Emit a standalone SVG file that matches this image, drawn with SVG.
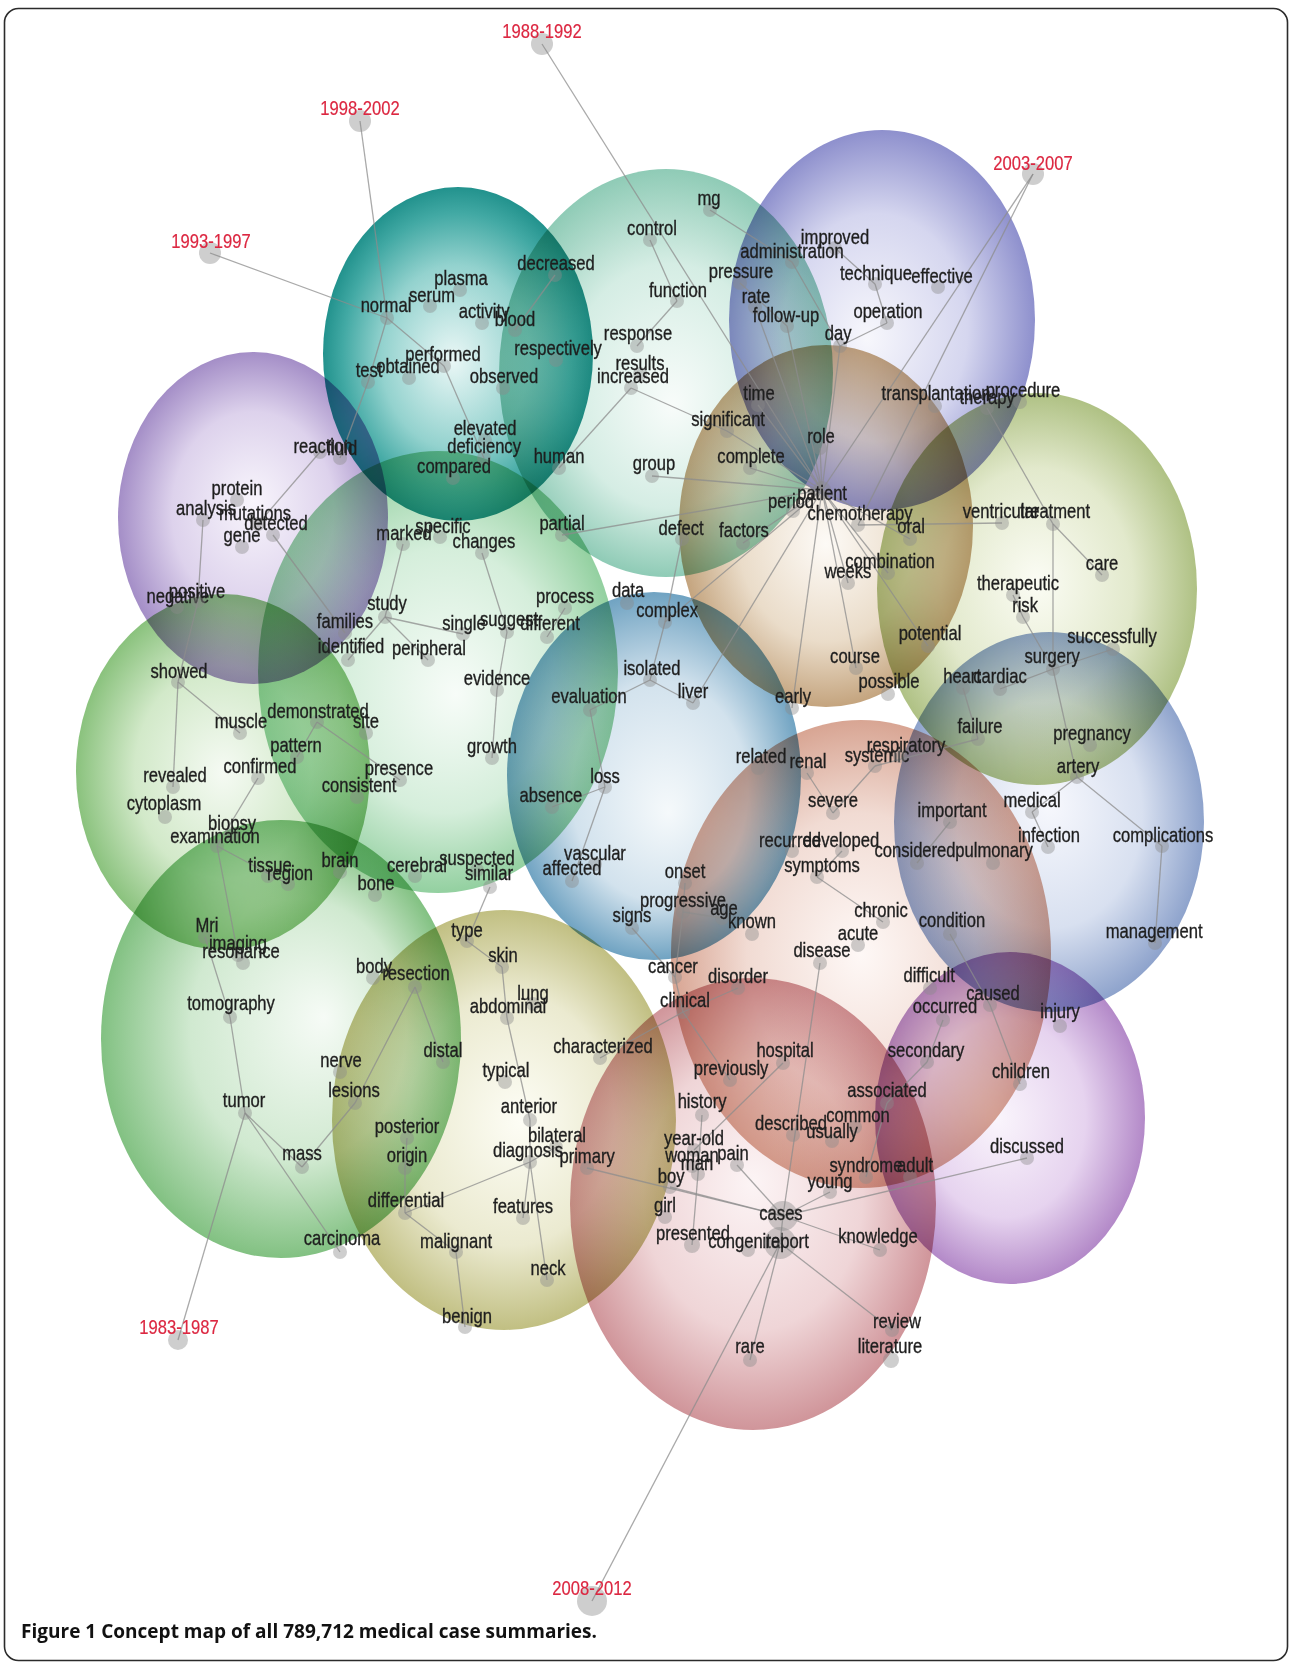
<svg xmlns="http://www.w3.org/2000/svg" width="1290" height="1663" viewBox="0 0 1290 1663">
<style>
.frame{fill:#fff;stroke:#2b2b2b;stroke-width:1.6}
.b{mix-blend-mode:multiply}
.e line{stroke:#8c8c8c;stroke-width:1.3;stroke-opacity:.75}
.n circle{fill:#8a8a8a;fill-opacity:.42}
.n text{font-family:"Liberation Sans",Arial,sans-serif;font-size:20.5px;fill:#1e1e1e;stroke:#1e1e1e;stroke-width:.35;text-anchor:middle;transform-box:fill-box;transform-origin:center;transform:scaleX(.81)}
.yr text{fill:#dc2741;stroke:#dc2741;stroke-width:.2}
.cap{font-family:"Open Sans","DejaVu Sans",sans-serif;font-weight:700;font-size:20px;fill:#111}
</style>
<defs>
<radialGradient id="g1" fx="48%" fy="52%"><stop offset="0" stop-color="#eaf7f6"/><stop offset=".55" stop-color="#93d2ce"/><stop offset=".85" stop-color="#42a9a4"/><stop offset="1" stop-color="#22928d"/></radialGradient>
<radialGradient id="g2" fx="52%" fy="58%"><stop offset="0" stop-color="#f8fcfa"/><stop offset=".6" stop-color="#d5ede4"/><stop offset="1" stop-color="#8fcbb6"/></radialGradient>
<radialGradient id="g3" fx="45%" fy="55%"><stop offset="0" stop-color="#f7f7fc"/><stop offset=".6" stop-color="#d5d6ef"/><stop offset="1" stop-color="#8e90cd"/></radialGradient>
<radialGradient id="g4" fx="50%" fy="55%"><stop offset="0" stop-color="#fdfaf6"/><stop offset=".6" stop-color="#eadcc9"/><stop offset="1" stop-color="#c4a47e"/></radialGradient>
<radialGradient id="g5" fx="50%" fy="48%"><stop offset="0" stop-color="#fbfcf4"/><stop offset=".6" stop-color="#e2e9cc"/><stop offset="1" stop-color="#afc184"/></radialGradient>
<radialGradient id="g6" fx="50%" fy="45%"><stop offset="0" stop-color="#f8f5fc"/><stop offset=".6" stop-color="#ddd2ec"/><stop offset="1" stop-color="#a48ec7"/></radialGradient>
<radialGradient id="g7" fx="55%" fy="55%"><stop offset="0" stop-color="#f7fcf8"/><stop offset=".6" stop-color="#d5eedb"/><stop offset="1" stop-color="#93d0a0"/></radialGradient>
<radialGradient id="g8" fx="50%" fy="50%"><stop offset="0" stop-color="#f5faf3"/><stop offset=".6" stop-color="#d2e9c9"/><stop offset="1" stop-color="#8ac27d"/></radialGradient>
<radialGradient id="g9" fx="62%" fy="45%"><stop offset="0" stop-color="#f6fbf6"/><stop offset=".6" stop-color="#d0e9d0"/><stop offset="1" stop-color="#82c182"/></radialGradient>
<radialGradient id="g10" fx="55%" fy="50%"><stop offset="0" stop-color="#fdfdf5"/><stop offset=".6" stop-color="#ebead0"/><stop offset="1" stop-color="#c1bf82"/></radialGradient>
<radialGradient id="g11" fx="55%" fy="60%"><stop offset="0" stop-color="#f5f9fb"/><stop offset=".6" stop-color="#d2e2ed"/><stop offset="1" stop-color="#70a3c2"/></radialGradient>
<radialGradient id="g12" fx="50%" fy="50%"><stop offset="0" stop-color="#fef8f6"/><stop offset=".6" stop-color="#f1dbd3"/><stop offset="1" stop-color="#d8a593"/></radialGradient>
<radialGradient id="g13" fx="50%" fy="45%"><stop offset="0" stop-color="#fcf4f5"/><stop offset=".6" stop-color="#efd5d7"/><stop offset="1" stop-color="#d0959a"/></radialGradient>
<radialGradient id="g14" fx="50%" fy="45%"><stop offset="0" stop-color="#f7f8fd"/><stop offset=".6" stop-color="#d8e0f0"/><stop offset="1" stop-color="#8ea3cc"/></radialGradient>
<radialGradient id="g15" fx="45%" fy="50%"><stop offset="0" stop-color="#faf5fc"/><stop offset=".6" stop-color="#e6d3ef"/><stop offset="1" stop-color="#b389c8"/></radialGradient>
</defs>
<rect class="frame" x="4.5" y="8.5" width="1283" height="1652" rx="14"/>
<g id="bubbles">
<ellipse class="b" cx="666" cy="373" rx="167" ry="204" fill="url(#g2)"/>
<ellipse class="b" cx="458" cy="354" rx="135" ry="167" fill="url(#g1)"/>
<ellipse class="b" cx="882" cy="320" rx="153" ry="190" fill="url(#g3)"/>
<ellipse class="b" cx="826" cy="526" rx="147" ry="181" fill="url(#g4)"/>
<ellipse class="b" cx="1037" cy="589" rx="160" ry="196" fill="url(#g5)"/>
<ellipse class="b" cx="253" cy="518" rx="135" ry="166" fill="url(#g6)"/>
<ellipse class="b" cx="438" cy="672" rx="180" ry="221" fill="url(#g7)"/>
<ellipse class="b" cx="223" cy="772" rx="147" ry="178" fill="url(#g8)"/>
<ellipse class="b" cx="281" cy="1039" rx="180" ry="219" fill="url(#g9)"/>
<ellipse class="b" cx="504" cy="1120" rx="172" ry="210" fill="url(#g10)"/>
<ellipse class="b" cx="654" cy="776" rx="147" ry="184" fill="url(#g11)"/>
<ellipse class="b" cx="861" cy="954" rx="190" ry="234" fill="url(#g12)"/>
<ellipse class="b" cx="753" cy="1204" rx="183" ry="226" fill="url(#g13)"/>
<ellipse class="b" cx="1049" cy="822" rx="155" ry="190" fill="url(#g14)"/>
<ellipse class="b" cx="1010" cy="1118" rx="135" ry="166" fill="url(#g15)"/>
</g>
<g id="edges" class="e">
<line x1="542" y1="44" x2="822" y2="490"/>
<line x1="360" y1="121" x2="387" y2="318"/>
<line x1="210" y1="253" x2="387" y2="318"/>
<line x1="1033" y1="174" x2="822" y2="490"/>
<line x1="1033" y1="174" x2="858" y2="525"/>
<line x1="178" y1="1340" x2="245" y2="1113"/>
<line x1="592" y1="1601" x2="780" y2="1243"/>
<line x1="387" y1="318" x2="368" y2="382"/>
<line x1="387" y1="318" x2="444" y2="366"/>
<line x1="368" y1="382" x2="340" y2="458"/>
<line x1="444" y1="366" x2="484" y2="458"/>
<line x1="555" y1="275" x2="515" y2="330"/>
<line x1="631" y1="388" x2="559" y2="468"/>
<line x1="631" y1="388" x2="727" y2="431"/>
<line x1="637" y1="346" x2="677" y2="301"/>
<line x1="650" y1="240" x2="677" y2="301"/>
<line x1="710" y1="210" x2="792" y2="262"/>
<line x1="792" y1="262" x2="840" y2="346"/>
<line x1="740" y1="283" x2="787" y2="326"/>
<line x1="835" y1="248" x2="875" y2="284"/>
<line x1="875" y1="284" x2="887" y2="323"/>
<line x1="887" y1="323" x2="840" y2="346"/>
<line x1="822" y1="490" x2="755" y2="307"/>
<line x1="822" y1="490" x2="787" y2="326"/>
<line x1="822" y1="490" x2="840" y2="346"/>
<line x1="822" y1="490" x2="820" y2="448"/>
<line x1="822" y1="490" x2="758" y2="405"/>
<line x1="822" y1="490" x2="727" y2="431"/>
<line x1="822" y1="490" x2="750" y2="468"/>
<line x1="822" y1="490" x2="652" y2="476"/>
<line x1="822" y1="490" x2="562" y2="535"/>
<line x1="822" y1="490" x2="743" y2="543"/>
<line x1="822" y1="490" x2="665" y2="622"/>
<line x1="822" y1="490" x2="693" y2="703"/>
<line x1="822" y1="490" x2="792" y2="708"/>
<line x1="822" y1="490" x2="848" y2="583"/>
<line x1="822" y1="490" x2="856" y2="668"/>
<line x1="822" y1="490" x2="888" y2="573"/>
<line x1="822" y1="490" x2="928" y2="646"/>
<line x1="822" y1="490" x2="910" y2="539"/>
<line x1="858" y1="525" x2="1002" y2="523"/>
<line x1="682" y1="539" x2="665" y2="622"/>
<line x1="650" y1="680" x2="693" y2="703"/>
<line x1="650" y1="680" x2="665" y2="622"/>
<line x1="590" y1="710" x2="650" y2="680"/>
<line x1="590" y1="710" x2="605" y2="787"/>
<line x1="605" y1="787" x2="552" y2="807"/>
<line x1="605" y1="787" x2="572" y2="881"/>
<line x1="403" y1="544" x2="385" y2="617"/>
<line x1="385" y1="617" x2="463" y2="634"/>
<line x1="385" y1="617" x2="348" y2="660"/>
<line x1="385" y1="617" x2="428" y2="660"/>
<line x1="482" y1="553" x2="507" y2="632"/>
<line x1="507" y1="632" x2="497" y2="690"/>
<line x1="497" y1="690" x2="492" y2="758"/>
<line x1="547" y1="637" x2="565" y2="608"/>
<line x1="273" y1="535" x2="345" y2="633"/>
<line x1="320" y1="452" x2="258" y2="524"/>
<line x1="203" y1="520" x2="198" y2="601"/>
<line x1="198" y1="601" x2="178" y2="682"/>
<line x1="178" y1="682" x2="173" y2="787"/>
<line x1="178" y1="682" x2="240" y2="733"/>
<line x1="317" y1="722" x2="400" y2="780"/>
<line x1="317" y1="722" x2="297" y2="757"/>
<line x1="258" y1="778" x2="217" y2="846"/>
<line x1="217" y1="846" x2="238" y2="955"/>
<line x1="217" y1="846" x2="288" y2="884"/>
<line x1="205" y1="937" x2="230" y2="1017"/>
<line x1="230" y1="1017" x2="245" y2="1113"/>
<line x1="245" y1="1113" x2="302" y2="1167"/>
<line x1="245" y1="1113" x2="340" y2="1252"/>
<line x1="302" y1="1167" x2="355" y2="1103"/>
<line x1="355" y1="1103" x2="415" y2="987"/>
<line x1="415" y1="987" x2="443" y2="1062"/>
<line x1="407" y1="1138" x2="405" y2="1168"/>
<line x1="405" y1="1168" x2="405" y2="1213"/>
<line x1="405" y1="1213" x2="530" y2="1162"/>
<line x1="405" y1="1213" x2="456" y2="1252"/>
<line x1="490" y1="887" x2="467" y2="941"/>
<line x1="467" y1="941" x2="502" y2="967"/>
<line x1="502" y1="967" x2="507" y2="1018"/>
<line x1="507" y1="1018" x2="530" y2="1120"/>
<line x1="530" y1="1120" x2="530" y2="1162"/>
<line x1="530" y1="1162" x2="523" y2="1218"/>
<line x1="530" y1="1162" x2="547" y2="1280"/>
<line x1="530" y1="1162" x2="556" y2="1147"/>
<line x1="587" y1="1168" x2="783" y2="1216"/>
<line x1="456" y1="1252" x2="465" y2="1327"/>
<line x1="600" y1="1058" x2="683" y2="1012"/>
<line x1="683" y1="1012" x2="675" y2="977"/>
<line x1="675" y1="977" x2="632" y2="928"/>
<line x1="675" y1="977" x2="683" y2="912"/>
<line x1="685" y1="883" x2="683" y2="912"/>
<line x1="683" y1="912" x2="722" y2="918"/>
<line x1="683" y1="1012" x2="738" y2="988"/>
<line x1="683" y1="1012" x2="730" y2="1080"/>
<line x1="783" y1="1063" x2="694" y2="1150"/>
<line x1="702" y1="1115" x2="698" y2="1174"/>
<line x1="698" y1="1174" x2="692" y2="1245"/>
<line x1="737" y1="1165" x2="783" y2="1216"/>
<line x1="670" y1="1187" x2="783" y2="1216"/>
<line x1="820" y1="963" x2="783" y2="1216"/>
<line x1="783" y1="1216" x2="780" y2="1243"/>
<line x1="780" y1="1243" x2="750" y2="1360"/>
<line x1="780" y1="1243" x2="892" y2="1330"/>
<line x1="783" y1="1216" x2="880" y2="1250"/>
<line x1="783" y1="1216" x2="830" y2="1192"/>
<line x1="783" y1="1216" x2="1027" y2="1158"/>
<line x1="927" y1="1062" x2="887" y2="1103"/>
<line x1="943" y1="1020" x2="927" y2="1062"/>
<line x1="887" y1="1103" x2="866" y2="1177"/>
<line x1="950" y1="934" x2="990" y2="1005"/>
<line x1="990" y1="1005" x2="1020" y2="1084"/>
<line x1="817" y1="877" x2="883" y2="922"/>
<line x1="842" y1="851" x2="817" y2="877"/>
<line x1="833" y1="813" x2="807" y2="773"/>
<line x1="833" y1="813" x2="875" y2="766"/>
<line x1="978" y1="739" x2="875" y2="766"/>
<line x1="978" y1="739" x2="963" y2="688"/>
<line x1="1000" y1="689" x2="1053" y2="669"/>
<line x1="1053" y1="669" x2="1113" y2="649"/>
<line x1="1053" y1="669" x2="1023" y2="617"/>
<line x1="1023" y1="617" x2="1013" y2="595"/>
<line x1="1053" y1="669" x2="1053" y2="524"/>
<line x1="1053" y1="524" x2="1102" y2="575"/>
<line x1="1053" y1="524" x2="987" y2="408"/>
<line x1="1053" y1="669" x2="1077" y2="777"/>
<line x1="1077" y1="777" x2="1032" y2="812"/>
<line x1="1077" y1="777" x2="1162" y2="846"/>
<line x1="1162" y1="846" x2="1155" y2="943"/>
<line x1="1032" y1="812" x2="1048" y2="847"/>
<line x1="950" y1="822" x2="917" y2="863"/>
</g>
<g id="nodes">
<g id="n-1988-1992" class="n yr"><circle cx="542" cy="44" r="11"/><text x="542" y="38">1988-1992</text></g>
<g id="n-1998-2002" class="n yr"><circle cx="360" cy="121" r="11"/><text x="360" y="115">1998-2002</text></g>
<g id="n-1993-1997" class="n yr"><circle cx="210" cy="253" r="11"/><text x="211" y="248">1993-1997</text></g>
<g id="n-2003-2007" class="n yr"><circle cx="1033" cy="174" r="11"/><text x="1033" y="170">2003-2007</text></g>
<g id="n-1983-1987" class="n yr"><circle cx="178" cy="1340" r="10"/><text x="179" y="1334">1983-1987</text></g>
<g id="n-2008-2012" class="n yr"><circle cx="592" cy="1601" r="15"/><text x="592" y="1595">2008-2012</text></g>

<g id="n-normal" class="n"><circle cx="387" cy="318" r="7"/><text x="386" y="312">normal</text></g>
<g id="n-serum" class="n"><circle cx="430" cy="306" r="7"/><text x="432" y="302">serum</text></g>
<g id="n-plasma" class="n"><circle cx="460" cy="290" r="7"/><text x="461" y="285">plasma</text></g>
<g id="n-activity" class="n"><circle cx="482" cy="323" r="7"/><text x="484" y="318">activity</text></g>
<g id="n-blood" class="n"><circle cx="515" cy="330" r="7"/><text x="515" y="326">blood</text></g>
<g id="n-test" class="n"><circle cx="368" cy="382" r="7"/><text x="369" y="377">test</text></g>
<g id="n-obtained" class="n"><circle cx="409" cy="378" r="7"/><text x="408" y="373">obtained</text></g>
<g id="n-performed" class="n"><circle cx="444" cy="366" r="7"/><text x="443" y="361">performed</text></g>
<g id="n-observed" class="n"><circle cx="503" cy="388" r="7"/><text x="504" y="383">observed</text></g>
<g id="n-respectively" class="n"><circle cx="556" cy="360" r="7"/><text x="558" y="355">respectively</text></g>
<g id="n-decreased" class="n"><circle cx="555" cy="275" r="7"/><text x="556" y="270">decreased</text></g>
<g id="n-elevated" class="n"><circle cx="485" cy="440" r="7"/><text x="485" y="435">elevated</text></g>
<g id="n-deficiency" class="n"><circle cx="484" cy="458" r="7"/><text x="484" y="453">deficiency</text></g>
<g id="n-compared" class="n"><circle cx="453" cy="478" r="7"/><text x="454" y="473">compared</text></g>
<g id="n-human" class="n"><circle cx="559" cy="468" r="7"/><text x="559" y="463">human</text></g>

<g id="n-mg" class="n"><circle cx="710" cy="210" r="7"/><text x="709" y="205">mg</text></g>
<g id="n-control" class="n"><circle cx="650" cy="240" r="7"/><text x="652" y="235">control</text></g>
<g id="n-function" class="n"><circle cx="677" cy="301" r="7"/><text x="678" y="297">function</text></g>
<g id="n-response" class="n"><circle cx="637" cy="346" r="7"/><text x="638" y="340">response</text></g>
<g id="n-results" class="n"><circle cx="640" cy="374" r="7"/><text x="640" y="370">results</text></g>
<g id="n-increased" class="n"><circle cx="631" cy="388" r="7"/><text x="633" y="383">increased</text></g>
<g id="n-significant" class="n"><circle cx="727" cy="431" r="7"/><text x="728" y="426">significant</text></g>
<g id="n-group" class="n"><circle cx="652" cy="476" r="7"/><text x="654" y="470">group</text></g>
<g id="n-partial" class="n"><circle cx="562" cy="535" r="7"/><text x="562" y="530">partial</text></g>
<g id="n-defect" class="n"><circle cx="682" cy="539" r="7"/><text x="681" y="535">defect</text></g>
<g id="n-factors" class="n"><circle cx="743" cy="543" r="7"/><text x="744" y="537">factors</text></g>
<g id="n-time" class="n"><circle cx="758" cy="405" r="7"/><text x="759" y="400">time</text></g>
<g id="n-complete" class="n"><circle cx="750" cy="468" r="7"/><text x="751" y="463">complete</text></g>

<g id="n-improved" class="n"><circle cx="835" cy="248" r="7"/><text x="835" y="244">improved</text></g>
<g id="n-administration" class="n"><circle cx="792" cy="262" r="7"/><text x="792" y="258">administration</text></g>
<g id="n-technique" class="n"><circle cx="875" cy="284" r="7"/><text x="876" y="280">technique</text></g>
<g id="n-effective" class="n"><circle cx="938" cy="287" r="7"/><text x="942" y="283">effective</text></g>
<g id="n-pressure" class="n"><circle cx="740" cy="283" r="7"/><text x="741" y="278">pressure</text></g>
<g id="n-rate" class="n"><circle cx="755" cy="307" r="7"/><text x="756" y="303">rate</text></g>
<g id="n-follow-up" class="n"><circle cx="787" cy="326" r="7"/><text x="786" y="322">follow-up</text></g>
<g id="n-day" class="n"><circle cx="840" cy="346" r="7"/><text x="838" y="340">day</text></g>
<g id="n-operation" class="n"><circle cx="887" cy="323" r="7"/><text x="888" y="318">operation</text></g>
<g id="n-transplantation" class="n"><circle cx="935" cy="406" r="7"/><text x="936" y="400">transplantation</text></g>
<g id="n-therapy" class="n"><circle cx="987" cy="408" r="7"/><text x="987" y="404">therapy</text></g>
<g id="n-procedure" class="n"><circle cx="1020" cy="402" r="7"/><text x="1023" y="397">procedure</text></g>
<g id="n-role" class="n"><circle cx="820" cy="448" r="7"/><text x="821" y="443">role</text></g>

<g id="n-patient" class="n"><circle cx="822" cy="490" r="9"/><text x="822" y="500">patient</text></g>
<g id="n-period" class="n"><circle cx="793" cy="511" r="7"/><text x="791" y="508">period</text></g>
<g id="n-chemotherapy" class="n"><circle cx="858" cy="525" r="7"/><text x="860" y="520">chemotherapy</text></g>
<g id="n-oral" class="n"><circle cx="910" cy="539" r="7"/><text x="911" y="533">oral</text></g>
<g id="n-combination" class="n"><circle cx="888" cy="573" r="7"/><text x="890" y="568">combination</text></g>
<g id="n-weeks" class="n"><circle cx="848" cy="583" r="7"/><text x="848" y="578">weeks</text></g>
<g id="n-potential" class="n"><circle cx="928" cy="646" r="7"/><text x="930" y="640">potential</text></g>
<g id="n-course" class="n"><circle cx="856" cy="668" r="7"/><text x="855" y="663">course</text></g>
<g id="n-possible" class="n"><circle cx="888" cy="694" r="7"/><text x="889" y="688">possible</text></g>
<g id="n-early" class="n"><circle cx="792" cy="708" r="7"/><text x="793" y="703">early</text></g>

<g id="n-ventricular" class="n"><circle cx="1002" cy="523" r="7"/><text x="1001" y="518">ventricular</text></g>
<g id="n-treatment" class="n"><circle cx="1053" cy="524" r="7"/><text x="1055" y="518">treatment</text></g>
<g id="n-care" class="n"><circle cx="1102" cy="575" r="7"/><text x="1102" y="570">care</text></g>
<g id="n-therapeutic" class="n"><circle cx="1013" cy="595" r="7"/><text x="1018" y="590">therapeutic</text></g>
<g id="n-risk" class="n"><circle cx="1023" cy="617" r="7"/><text x="1025" y="612">risk</text></g>
<g id="n-successfully" class="n"><circle cx="1113" cy="649" r="7"/><text x="1112" y="643">successfully</text></g>
<g id="n-surgery" class="n"><circle cx="1053" cy="669" r="7"/><text x="1052" y="663">surgery</text></g>
<g id="n-heart" class="n"><circle cx="963" cy="688" r="7"/><text x="962" y="683">heart</text></g>
<g id="n-cardiac" class="n"><circle cx="1000" cy="689" r="7"/><text x="1000" y="683">cardiac</text></g>
<g id="n-failure" class="n"><circle cx="978" cy="739" r="7"/><text x="980" y="733">failure</text></g>
<g id="n-pregnancy" class="n"><circle cx="1090" cy="745" r="7"/><text x="1092" y="740">pregnancy</text></g>

<g id="n-artery" class="n"><circle cx="1077" cy="777" r="7"/><text x="1078" y="773">artery</text></g>
<g id="n-medical" class="n"><circle cx="1032" cy="812" r="7"/><text x="1032" y="807">medical</text></g>
<g id="n-important" class="n"><circle cx="950" cy="822" r="7"/><text x="952" y="817">important</text></g>
<g id="n-infection" class="n"><circle cx="1048" cy="847" r="7"/><text x="1049" y="842">infection</text></g>
<g id="n-complications" class="n"><circle cx="1162" cy="846" r="7"/><text x="1163" y="842">complications</text></g>
<g id="n-considered" class="n"><circle cx="917" cy="863" r="7"/><text x="915" y="857">considered</text></g>
<g id="n-pulmonary" class="n"><circle cx="993" cy="863" r="7"/><text x="994" y="857">pulmonary</text></g>
<g id="n-condition" class="n"><circle cx="950" cy="934" r="7"/><text x="952" y="927">condition</text></g>
<g id="n-management" class="n"><circle cx="1155" cy="943" r="7"/><text x="1154" y="938">management</text></g>

<g id="n-difficult" class="n"><circle cx="930" cy="988" r="7"/><text x="929" y="982">difficult</text></g>
<g id="n-caused" class="n"><circle cx="990" cy="1005" r="7"/><text x="993" y="1000">caused</text></g>
<g id="n-occurred" class="n"><circle cx="943" cy="1020" r="7"/><text x="945" y="1013">occurred</text></g>
<g id="n-injury" class="n"><circle cx="1060" cy="1026" r="7"/><text x="1060" y="1018">injury</text></g>
<g id="n-secondary" class="n"><circle cx="927" cy="1062" r="7"/><text x="926" y="1057">secondary</text></g>
<g id="n-children" class="n"><circle cx="1020" cy="1084" r="7"/><text x="1021" y="1078">children</text></g>
<g id="n-discussed" class="n"><circle cx="1027" cy="1158" r="7"/><text x="1027" y="1153">discussed</text></g>
<g id="n-adult" class="n"><circle cx="910" cy="1177" r="7"/><text x="915" y="1172">adult</text></g>

<g id="n-related" class="n"><circle cx="758" cy="768" r="7"/><text x="761" y="763">related</text></g>
<g id="n-renal" class="n"><circle cx="807" cy="773" r="7"/><text x="808" y="768">renal</text></g>
<g id="n-systemic" class="n"><circle cx="875" cy="766" r="7"/><text x="877" y="762">systemic</text></g>
<g id="n-respiratory" class="n"><circle cx="900" cy="756" r="7"/><text x="906" y="752">respiratory</text></g>
<g id="n-severe" class="n"><circle cx="833" cy="813" r="7"/><text x="833" y="807">severe</text></g>
<g id="n-recurred" class="n"><circle cx="792" cy="851" r="7"/><text x="790" y="847">recurred</text></g>
<g id="n-developed" class="n"><circle cx="842" cy="851" r="7"/><text x="841" y="847">developed</text></g>
<g id="n-symptoms" class="n"><circle cx="817" cy="877" r="7"/><text x="822" y="872">symptoms</text></g>
<g id="n-chronic" class="n"><circle cx="883" cy="922" r="7"/><text x="881" y="917">chronic</text></g>
<g id="n-acute" class="n"><circle cx="858" cy="945" r="7"/><text x="858" y="940">acute</text></g>
<g id="n-disease" class="n"><circle cx="820" cy="963" r="7"/><text x="822" y="957">disease</text></g>
<g id="n-known" class="n"><circle cx="752" cy="934" r="7"/><text x="752" y="928">known</text></g>
<g id="n-disorder" class="n"><circle cx="738" cy="988" r="7"/><text x="738" y="983">disorder</text></g>
<g id="n-hospital" class="n"><circle cx="783" cy="1063" r="7"/><text x="785" y="1057">hospital</text></g>
<g id="n-previously" class="n"><circle cx="730" cy="1080" r="7"/><text x="731" y="1075">previously</text></g>
<g id="n-associated" class="n"><circle cx="887" cy="1103" r="7"/><text x="887" y="1097">associated</text></g>
<g id="n-common" class="n"><circle cx="855" cy="1127" r="7"/><text x="858" y="1122">common</text></g>
<g id="n-usually" class="n"><circle cx="832" cy="1141" r="7"/><text x="832" y="1138">usually</text></g>
<g id="n-described" class="n"><circle cx="793" cy="1135" r="7"/><text x="791" y="1130">described</text></g>
<g id="n-syndrome" class="n"><circle cx="866" cy="1177" r="7"/><text x="866" y="1172">syndrome</text></g>
<g id="n-young" class="n"><circle cx="830" cy="1192" r="7"/><text x="830" y="1188">young</text></g>

<g id="n-clinical" class="n"><circle cx="683" cy="1012" r="7"/><text x="685" y="1007">clinical</text></g>
<g id="n-history" class="n"><circle cx="702" cy="1115" r="7"/><text x="702" y="1108">history</text></g>
<g id="n-year-old" class="n"><circle cx="694" cy="1150" r="7"/><text x="694" y="1145">year-old</text></g>
<g id="n-woman" class="n"><circle cx="692" cy="1166" r="7"/><text x="692" y="1162">woman</text></g>
<g id="n-man" class="n"><circle cx="698" cy="1174" r="7"/><text x="697" y="1170">man</text></g>
<g id="n-pain" class="n"><circle cx="737" cy="1165" r="7"/><text x="733" y="1160">pain</text></g>
<g id="n-boy" class="n"><circle cx="670" cy="1187" r="7"/><text x="671" y="1183">boy</text></g>
<g id="n-girl" class="n"><circle cx="665" cy="1217" r="7"/><text x="665" y="1212">girl</text></g>
<g id="n-cases" class="n"><circle cx="783" cy="1216" r="15"/><text x="781" y="1220">cases</text></g>
<g id="n-presented" class="n"><circle cx="692" cy="1245" r="8"/><text x="693" y="1240">presented</text></g>
<g id="n-congenital" class="n"><circle cx="748" cy="1250" r="7"/><text x="746" y="1248">congenital</text></g>
<g id="n-report" class="n"><circle cx="780" cy="1243" r="16"/><text x="787" y="1248">report</text></g>
<g id="n-knowledge" class="n"><circle cx="880" cy="1250" r="7"/><text x="878" y="1243">knowledge</text></g>
<g id="n-rare" class="n"><circle cx="750" cy="1360" r="7"/><text x="750" y="1353">rare</text></g>
<g id="n-review" class="n"><circle cx="892" cy="1330" r="7"/><text x="897" y="1328">review</text></g>
<g id="n-literature" class="n"><circle cx="891" cy="1360" r="8"/><text x="890" y="1353">literature</text></g>

<g id="n-data" class="n"><circle cx="627" cy="603" r="7"/><text x="628" y="597">data</text></g>
<g id="n-complex" class="n"><circle cx="665" cy="622" r="7"/><text x="667" y="617">complex</text></g>
<g id="n-isolated" class="n"><circle cx="650" cy="680" r="7"/><text x="652" y="675">isolated</text></g>
<g id="n-liver" class="n"><circle cx="693" cy="703" r="7"/><text x="693" y="698">liver</text></g>
<g id="n-evaluation" class="n"><circle cx="590" cy="710" r="7"/><text x="589" y="703">evaluation</text></g>
<g id="n-loss" class="n"><circle cx="605" cy="787" r="7"/><text x="605" y="783">loss</text></g>
<g id="n-absence" class="n"><circle cx="552" cy="807" r="7"/><text x="551" y="802">absence</text></g>
<g id="n-vascular" class="n"><circle cx="595" cy="864" r="7"/><text x="595" y="860">vascular</text></g>
<g id="n-affected" class="n"><circle cx="572" cy="881" r="7"/><text x="572" y="875">affected</text></g>
<g id="n-onset" class="n"><circle cx="685" cy="883" r="7"/><text x="685" y="878">onset</text></g>
<g id="n-progressive" class="n"><circle cx="683" cy="912" r="7"/><text x="683" y="907">progressive</text></g>
<g id="n-age" class="n"><circle cx="722" cy="918" r="7"/><text x="724" y="915">age</text></g>
<g id="n-signs" class="n"><circle cx="632" cy="928" r="7"/><text x="632" y="922">signs</text></g>
<g id="n-cancer" class="n"><circle cx="675" cy="977" r="7"/><text x="673" y="973">cancer</text></g>

<g id="n-marked" class="n"><circle cx="403" cy="544" r="7"/><text x="404" y="540">marked</text></g>
<g id="n-specific" class="n"><circle cx="440" cy="537" r="7"/><text x="443" y="533">specific</text></g>
<g id="n-changes" class="n"><circle cx="482" cy="553" r="7"/><text x="484" y="548">changes</text></g>
<g id="n-study" class="n"><circle cx="385" cy="617" r="7"/><text x="387" y="610">study</text></g>
<g id="n-single" class="n"><circle cx="463" cy="634" r="7"/><text x="464" y="630">single</text></g>
<g id="n-suggest" class="n"><circle cx="507" cy="632" r="7"/><text x="509" y="626">suggest</text></g>
<g id="n-different" class="n"><circle cx="547" cy="637" r="7"/><text x="550" y="630">different</text></g>
<g id="n-process" class="n"><circle cx="565" cy="608" r="7"/><text x="565" y="603">process</text></g>
<g id="n-families" class="n"><circle cx="345" cy="633" r="7"/><text x="345" y="628">families</text></g>
<g id="n-identified" class="n"><circle cx="348" cy="660" r="7"/><text x="351" y="653">identified</text></g>
<g id="n-peripheral" class="n"><circle cx="428" cy="660" r="7"/><text x="429" y="655">peripheral</text></g>
<g id="n-evidence" class="n"><circle cx="497" cy="690" r="7"/><text x="497" y="685">evidence</text></g>
<g id="n-growth" class="n"><circle cx="492" cy="758" r="7"/><text x="492" y="753">growth</text></g>
<g id="n-demonstrated" class="n"><circle cx="317" cy="722" r="7"/><text x="318" y="718">demonstrated</text></g>
<g id="n-site" class="n"><circle cx="366" cy="733" r="7"/><text x="366" y="728">site</text></g>
<g id="n-presence" class="n"><circle cx="400" cy="780" r="7"/><text x="399" y="775">presence</text></g>
<g id="n-consistent" class="n"><circle cx="357" cy="797" r="7"/><text x="359" y="792">consistent</text></g>
<g id="n-cerebral" class="n"><circle cx="415" cy="876" r="7"/><text x="417" y="872">cerebral</text></g>
<g id="n-suspected" class="n"><circle cx="477" cy="870" r="7"/><text x="477" y="865">suspected</text></g>
<g id="n-similar" class="n"><circle cx="490" cy="887" r="7"/><text x="489" y="880">similar</text></g>

<g id="n-reaction" class="n"><circle cx="320" cy="452" r="7"/><text x="323" y="453">reaction</text></g>
<g id="n-fluid" class="n"><circle cx="340" cy="458" r="7"/><text x="342" y="455">fluid</text></g>
<g id="n-protein" class="n"><circle cx="237" cy="500" r="7"/><text x="237" y="495">protein</text></g>
<g id="n-analysis" class="n"><circle cx="203" cy="520" r="7"/><text x="206" y="515">analysis</text></g>
<g id="n-mutations" class="n"><circle cx="258" cy="524" r="7"/><text x="255" y="520">mutations</text></g>
<g id="n-detected" class="n"><circle cx="273" cy="535" r="7"/><text x="276" y="530">detected</text></g>
<g id="n-gene" class="n"><circle cx="242" cy="547" r="7"/><text x="242" y="542">gene</text></g>
<g id="n-negative" class="n"><circle cx="177" cy="607" r="7"/><text x="178" y="603">negative</text></g>
<g id="n-positive" class="n"><circle cx="198" cy="601" r="7"/><text x="197" y="598">positive</text></g>

<g id="n-showed" class="n"><circle cx="178" cy="682" r="7"/><text x="179" y="678">showed</text></g>
<g id="n-muscle" class="n"><circle cx="240" cy="733" r="7"/><text x="241" y="728">muscle</text></g>
<g id="n-pattern" class="n"><circle cx="297" cy="757" r="7"/><text x="296" y="752">pattern</text></g>
<g id="n-confirmed" class="n"><circle cx="258" cy="778" r="7"/><text x="260" y="773">confirmed</text></g>
<g id="n-revealed" class="n"><circle cx="173" cy="787" r="7"/><text x="175" y="782">revealed</text></g>
<g id="n-cytoplasm" class="n"><circle cx="165" cy="817" r="7"/><text x="164" y="810">cytoplasm</text></g>
<g id="n-biopsy" class="n"><circle cx="232" cy="834" r="7"/><text x="232" y="830">biopsy</text></g>
<g id="n-examination" class="n"><circle cx="217" cy="846" r="7"/><text x="215" y="843">examination</text></g>
<g id="n-tissue" class="n"><circle cx="268" cy="876" r="7"/><text x="270" y="872">tissue</text></g>
<g id="n-region" class="n"><circle cx="288" cy="884" r="7"/><text x="290" y="880">region</text></g>
<g id="n-brain" class="n"><circle cx="340" cy="872" r="7"/><text x="340" y="867">brain</text></g>
<g id="n-bone" class="n"><circle cx="375" cy="895" r="7"/><text x="376" y="890">bone</text></g>

<g id="n-Mri" class="n"><circle cx="205" cy="937" r="7"/><text x="207" y="932">Mri</text></g>
<g id="n-imaging" class="n"><circle cx="238" cy="955" r="7"/><text x="238" y="950">imaging</text></g>
<g id="n-resonance" class="n"><circle cx="243" cy="963" r="7"/><text x="241" y="958">resonance</text></g>
<g id="n-tomography" class="n"><circle cx="230" cy="1017" r="7"/><text x="231" y="1010">tomography</text></g>
<g id="n-nerve" class="n"><circle cx="340" cy="1072" r="7"/><text x="341" y="1067">nerve</text></g>
<g id="n-lesions" class="n"><circle cx="355" cy="1103" r="7"/><text x="354" y="1097">lesions</text></g>
<g id="n-tumor" class="n"><circle cx="245" cy="1113" r="7"/><text x="244" y="1107">tumor</text></g>
<g id="n-mass" class="n"><circle cx="302" cy="1167" r="7"/><text x="302" y="1160">mass</text></g>
<g id="n-carcinoma" class="n"><circle cx="340" cy="1252" r="7"/><text x="342" y="1245">carcinoma</text></g>
<g id="n-body" class="n"><circle cx="373" cy="978" r="7"/><text x="374" y="973">body</text></g>
<g id="n-resection" class="n"><circle cx="415" cy="987" r="7"/><text x="416" y="980">resection</text></g>
<g id="n-distal" class="n"><circle cx="443" cy="1062" r="7"/><text x="443" y="1057">distal</text></g>
<g id="n-posterior" class="n"><circle cx="407" cy="1138" r="7"/><text x="407" y="1133">posterior</text></g>
<g id="n-origin" class="n"><circle cx="405" cy="1168" r="7"/><text x="407" y="1162">origin</text></g>
<g id="n-differential" class="n"><circle cx="405" cy="1213" r="7"/><text x="406" y="1207">differential</text></g>

<g id="n-type" class="n"><circle cx="467" cy="941" r="7"/><text x="467" y="937">type</text></g>
<g id="n-skin" class="n"><circle cx="502" cy="967" r="7"/><text x="503" y="962">skin</text></g>
<g id="n-lung" class="n"><circle cx="533" cy="1004" r="7"/><text x="533" y="1000">lung</text></g>
<g id="n-abdominal" class="n"><circle cx="507" cy="1018" r="7"/><text x="508" y="1013">abdominal</text></g>
<g id="n-characterized" class="n"><circle cx="600" cy="1058" r="7"/><text x="603" y="1053">characterized</text></g>
<g id="n-typical" class="n"><circle cx="505" cy="1082" r="7"/><text x="506" y="1077">typical</text></g>
<g id="n-anterior" class="n"><circle cx="530" cy="1120" r="7"/><text x="529" y="1113">anterior</text></g>
<g id="n-bilateral" class="n"><circle cx="556" cy="1147" r="7"/><text x="557" y="1142">bilateral</text></g>
<g id="n-diagnosis" class="n"><circle cx="530" cy="1162" r="7"/><text x="528" y="1157">diagnosis</text></g>
<g id="n-primary" class="n"><circle cx="587" cy="1168" r="7"/><text x="587" y="1163">primary</text></g>
<g id="n-features" class="n"><circle cx="523" cy="1218" r="7"/><text x="523" y="1213">features</text></g>
<g id="n-malignant" class="n"><circle cx="456" cy="1252" r="7"/><text x="456" y="1248">malignant</text></g>
<g id="n-neck" class="n"><circle cx="547" cy="1280" r="7"/><text x="548" y="1275">neck</text></g>
<g id="n-benign" class="n"><circle cx="465" cy="1327" r="7"/><text x="467" y="1323">benign</text></g>
</g>
<text class="cap" x="21" y="1638" textLength="576" lengthAdjust="spacingAndGlyphs">Figure 1 Concept map of all 789,712 medical case summaries.</text>
</svg>
